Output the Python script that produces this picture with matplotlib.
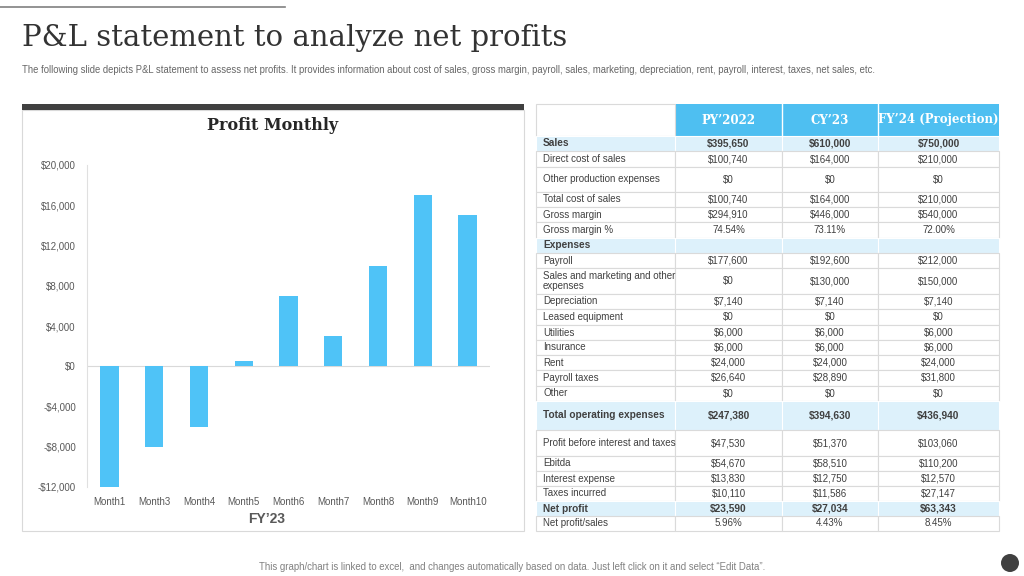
import matplotlib
matplotlib.use("Agg")
import matplotlib.pyplot as plt
from matplotlib.patches import Rectangle, Circle
from matplotlib.ticker import FuncFormatter

plt.rcParams["text.parse_math"] = False
plt.rcParams["font.family"] = ["Liberation Sans", "DejaVu Sans"]

# chart data
months = ["Month1", "Month3", "Month4", "Month5", "Month6", "Month7", "Month8", "Month9", "Month10"]
profit = [-12000, -8000, -6000, 500, 7000, 3000, 10000, 17000, 15000]

# table data
columns = ["PY\u20192022", "CY\u201923", "FY\u201924 (Projection)"]
row_labels = [
    "Sales", "Direct cost of sales", "Other production expenses", "Total cost of sales",
    "Gross margin", "Gross margin %", "Expenses", "Payroll",
    "Sales and marketing and other\nexpenses", "Depreciation", "Leased equipment",
    "Utilities", "Insurance", "Rent", "Payroll taxes", "Other",
    "Total operating expenses", "Profit before interest and taxes", "Ebitda",
    "Interest expense", "Taxes incurred", "Net profit", "Net profit/sales",
]
py2022 = ["$395,650", "$100,740", "$0", "$100,740", "$294,910", "74.54%", "", "$177,600",
          "$0", "$7,140", "$0", "$6,000", "$6,000", "$24,000", "$26,640", "$0",
          "$247,380", "$47,530", "$54,670", "$13,830", "$10,110", "$23,590", "5.96%"]
cy23 = ["$610,000", "$164,000", "$0", "$164,000", "$446,000", "73.11%", "", "$192,600",
        "$130,000", "$7,140", "$0", "$6,000", "$6,000", "$24,000", "$28,890", "$0",
        "$394,630", "$51,370", "$58,510", "$12,750", "$11,586", "$27,034", "4.43%"]
fy24 = ["$750,000", "$210,000", "$0", "$210,000", "$540,000", "72.00%", "", "$212,000",
        "$150,000", "$7,140", "$0", "$6,000", "$6,000", "$24,000", "$31,800", "$0",
        "$436,940", "$103,060", "$110,200", "$12,570", "$27,147", "$63,343", "8.45%"]
highlight_rows = ["Sales", "Expenses", "Total operating expenses", "Net profit"]

# layout (pixels)
row_h = [15, 16, 25, 15, 15, 16, 15, 15, 26, 15, 16, 15, 15, 15, 16, 15, 29, 26, 15, 15, 15, 15, 15]
col_x = [536, 675, 782, 878, 999]

BLUE = "#4EBFF1"
LIGHT = "#DDF1FB"
GRID = "#DADADA"
TXT = "#404040"

fig = plt.figure(figsize=(10.24, 5.76), dpi=100)
bg = fig.add_axes([0, 0, 1, 1])
bg.set_xlim(0, 1024)
bg.set_ylim(576, 0)
bg.axis("off")

# header decorations
bg.plot([0, 285], [7, 7], color="#808080", lw=1.2)
bg.text(22, 38, "P&L statement to analyze net profits", family="DejaVu Serif",
        fontsize=21, color="#333333", va="center", ha="left")
bg.text(22, 70, "The following slide depicts P&L statement to assess net profits. It provides information "
        "about cost of sales, gross margin, payroll, sales, marketing, depreciation, rent, payroll, "
        "interest, taxes, net sales, etc.", fontsize=6.85, color="#666666", va="center", ha="left")

# chart panel
bg.add_patch(Rectangle((22, 110), 502, 421, facecolor="white", edgecolor="#D9D9D9", lw=0.8))
bg.add_patch(Rectangle((22, 104), 502, 6, facecolor="#404040", edgecolor="none"))
bg.text(273, 126, "Profit Monthly", family="DejaVu Serif", fontweight="bold",
        fontsize=11.5, color="#262626", ha="center", va="center")
bg.text(267, 519, "FY\u201923", fontweight="bold", fontsize=10, color="#595959",
        ha="center", va="center")

# table
bg.add_patch(Rectangle((col_x[1], 104), col_x[-1] - col_x[1], 32, facecolor=BLUE, edgecolor="none"))
bg.add_patch(Rectangle((col_x[0], 104), col_x[1] - col_x[0], 32, facecolor="white",
                       edgecolor=GRID, lw=0.8))
for i, name in enumerate(columns):
    cx = (col_x[i + 1] + col_x[i + 2]) / 2
    bg.text(cx, 120, name, family="DejaVu Serif", fontweight="bold", fontsize=8.5,
            color="white", ha="center", va="center")
    if i > 0:
        bg.plot([col_x[i + 1]] * 2, [104, 136], color="white", lw=1)

y = 136
for i, label in enumerate(row_labels):
    h = row_h[i]
    hl = label in highlight_rows
    face = LIGHT if hl else "white"
    for c in range(4):
        bg.add_patch(Rectangle((col_x[c], y), col_x[c + 1] - col_x[c], h,
                               facecolor=face, edgecolor="white" if hl else GRID, lw=0.8))
    weight = "bold" if hl else "normal"
    size = 7.3 if hl else 7
    cy = y + h / 2
    bg.text(543, cy, label, fontsize=size, fontweight=weight, color=TXT,
            ha="left", va="center", linespacing=1.0)
    for c, vals in enumerate([py2022, cy23, fy24]):
        bg.text((col_x[c + 1] + col_x[c + 2]) / 2, cy, vals[i], fontsize=size,
                fontweight=weight, color=TXT, ha="center", va="center")
    y += h

# footer
bg.text(512, 567, "This graph/chart is linked to excel,  and changes automatically based on data. "
        "Just left click on it and select \u201cEdit Data\u201d.", fontsize=6.9, color="#808080",
        ha="center", va="center")
bg.add_patch(Circle((1010, 563), 9, facecolor="#404040", edgecolor="none"))

# bar chart
ax = fig.add_axes([87 / 1024, (576 - 487) / 576, 403 / 1024, 322 / 576])
ax.patch.set_alpha(0)
x = range(len(months))
ax.bar(x, profit, width=0.41, color="#4FC3F7", zorder=3)
ax.set_xlim(-0.5, len(months) - 0.5)
ax.set_ylim(-12000, 20000)
ax.set_yticks(range(-12000, 20001, 4000))
ax.yaxis.set_major_formatter(FuncFormatter(lambda v, p: f"-${abs(v):,.0f}" if v < 0 else f"${v:,.0f}"))
ax.set_xticks(list(x))
ax.set_xticklabels(months)
ax.tick_params(axis="both", length=0, labelsize=7, labelcolor="#595959")
ax.tick_params(axis="y", pad=8)
ax.tick_params(axis="x", pad=7)
ax.axhline(0, color="#D9D9D9", lw=0.8, zorder=2)
for s in ["top", "right", "bottom"]:
    ax.spines[s].set_visible(False)
ax.spines["left"].set_color("#E0E0E0")
ax.spines["left"].set_linewidth(0.8)

fig.savefig("out.png", dpi=100)
